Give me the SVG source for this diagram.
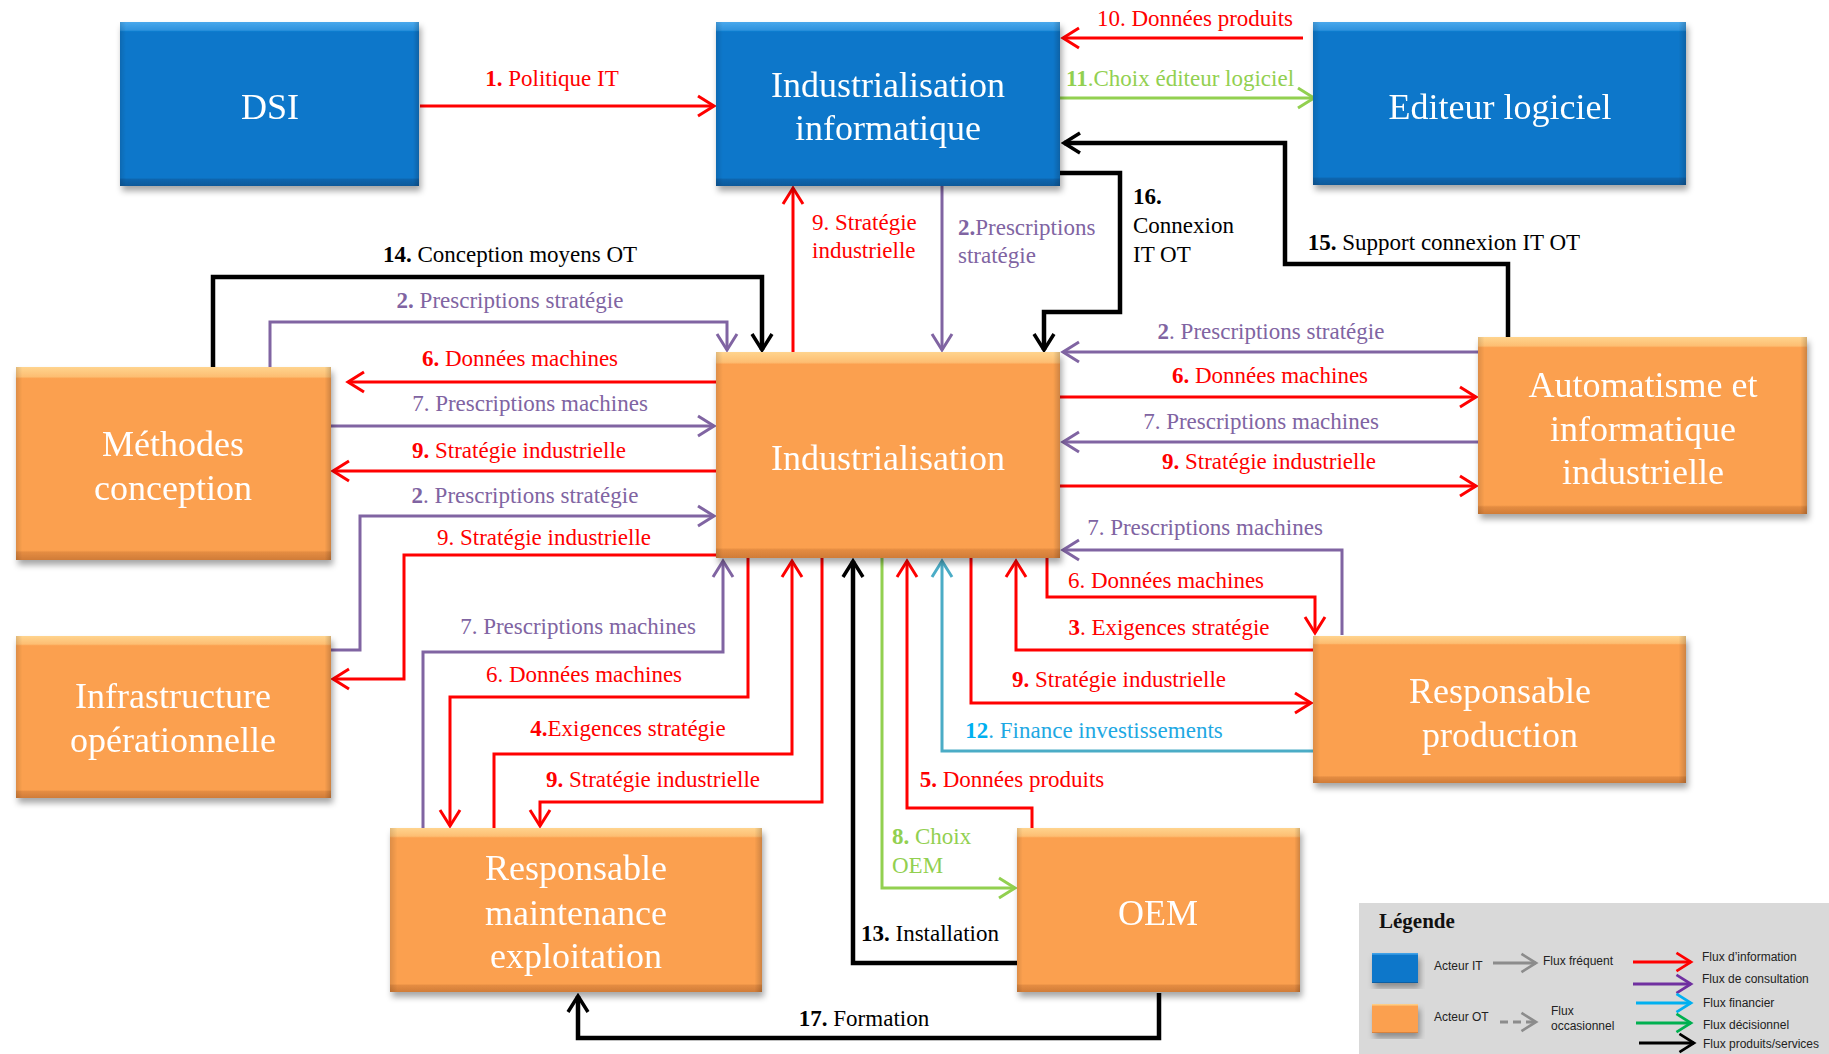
<svg xmlns="http://www.w3.org/2000/svg" width="1829" height="1054" viewBox="0 0 1829 1054">
<defs>
<style>
.nt{font-family:"Liberation Serif","Times New Roman",serif;font-size:36px;fill:#fff;text-anchor:middle}
.lb{font-family:"Liberation Serif","Times New Roman",serif;font-size:23px;text-anchor:middle}
.ll{font-family:"Liberation Serif","Times New Roman",serif;font-size:23px}
.b{font-weight:bold}
.r{fill:#FF0000}.p{fill:#8064A2}.k{fill:#000}.g{fill:#92D050}.c{fill:#1EA8E3}
.ln{fill:none;stroke-linejoin:miter}
.lr{stroke:#FF0000;stroke-width:3;marker-end:url(#aR)}
.lp{stroke:#8064A2;stroke-width:3;marker-end:url(#aP)}
.lk{stroke:#000;stroke-width:4.5;marker-end:url(#aK)}
.lg{stroke:#92D050;stroke-width:3;marker-end:url(#aG)}
.lc{stroke:#4BACC6;stroke-width:3;marker-end:url(#aC)}
.blue{fill:url(#gB)}.orange{fill:url(#gO)}
.side{fill:url(#gS)}
.lt{font-family:"Liberation Sans",Arial,sans-serif;font-size:12px;fill:#222}
</style>
<linearGradient id="gB" x1="0" y1="0" x2="0" y2="1">
<stop offset="0" stop-color="#4AA8EC"/><stop offset="0.05" stop-color="#2E93DE"/><stop offset="0.06" stop-color="#0877CA"/><stop offset="0.95" stop-color="#0877CA"/><stop offset="0.96" stop-color="#0865AE"/><stop offset="1" stop-color="#08599A"/>
</linearGradient>
<linearGradient id="gO" x1="0" y1="0" x2="0" y2="1">
<stop offset="0" stop-color="#FFD48E"/><stop offset="0.05" stop-color="#FDBE72"/><stop offset="0.06" stop-color="#FBA04F"/><stop offset="0.95" stop-color="#FBA04F"/><stop offset="0.96" stop-color="#E48C42"/><stop offset="1" stop-color="#D07C38"/>
</linearGradient>
<linearGradient id="gS" x1="0" y1="0" x2="1" y2="0">
<stop offset="0" stop-color="#000" stop-opacity="0.12"/><stop offset="0.02" stop-color="#000" stop-opacity="0"/><stop offset="0.98" stop-color="#000" stop-opacity="0"/><stop offset="1" stop-color="#000" stop-opacity="0.18"/>
</linearGradient>
<filter id="sh" x="-10%" y="-10%" width="125%" height="130%">
<feDropShadow dx="2" dy="5" stdDeviation="3" flood-color="#000" flood-opacity="0.35"/>
</filter>
<marker id="aR" viewBox="0 0 22 24" markerWidth="22" markerHeight="24" refX="19" refY="12" orient="auto" markerUnits="userSpaceOnUse"><path d="M3,2 L19,12 L3,22" fill="none" stroke="#FF0000" stroke-width="3"/></marker>
<marker id="aP" viewBox="0 0 22 24" markerWidth="22" markerHeight="24" refX="19" refY="12" orient="auto" markerUnits="userSpaceOnUse"><path d="M3,2 L19,12 L3,22" fill="none" stroke="#8064A2" stroke-width="3"/></marker>
<marker id="aK" viewBox="0 0 22 24" markerWidth="22" markerHeight="24" refX="19" refY="12" orient="auto" markerUnits="userSpaceOnUse"><path d="M3,2 L19,12 L3,22" fill="none" stroke="#000" stroke-width="3.5"/></marker>
<marker id="aG" viewBox="0 0 22 24" markerWidth="22" markerHeight="24" refX="19" refY="12" orient="auto" markerUnits="userSpaceOnUse"><path d="M3,2 L19,12 L3,22" fill="none" stroke="#92D050" stroke-width="3"/></marker>
<marker id="aC" viewBox="0 0 22 24" markerWidth="22" markerHeight="24" refX="19" refY="12" orient="auto" markerUnits="userSpaceOnUse"><path d="M3,2 L19,12 L3,22" fill="none" stroke="#4BACC6" stroke-width="3"/></marker>
<marker id="lR" viewBox="0 0 22 24" markerWidth="20" markerHeight="22" refX="19" refY="12" orient="auto" markerUnits="userSpaceOnUse"><path d="M3,2 L19,12 L3,22" fill="none" stroke="#FF0000" stroke-width="3"/></marker>
<marker id="lP" viewBox="0 0 22 24" markerWidth="20" markerHeight="22" refX="19" refY="12" orient="auto" markerUnits="userSpaceOnUse"><path d="M3,2 L19,12 L3,22" fill="none" stroke="#7030A0" stroke-width="3"/></marker>
<marker id="lB" viewBox="0 0 22 24" markerWidth="20" markerHeight="22" refX="19" refY="12" orient="auto" markerUnits="userSpaceOnUse"><path d="M3,2 L19,12 L3,22" fill="none" stroke="#00B0F0" stroke-width="3"/></marker>
<marker id="lG" viewBox="0 0 22 24" markerWidth="20" markerHeight="22" refX="19" refY="12" orient="auto" markerUnits="userSpaceOnUse"><path d="M3,2 L19,12 L3,22" fill="none" stroke="#00B050" stroke-width="3"/></marker>
<marker id="lK" viewBox="0 0 22 24" markerWidth="20" markerHeight="22" refX="19" refY="12" orient="auto" markerUnits="userSpaceOnUse"><path d="M3,2 L19,12 L3,22" fill="none" stroke="#000" stroke-width="3"/></marker>
<marker id="lY" viewBox="0 0 22 24" markerWidth="20" markerHeight="22" refX="19" refY="12" orient="auto" markerUnits="userSpaceOnUse"><path d="M3,2 L19,12 L3,22" fill="none" stroke="#8C8C8C" stroke-width="3"/></marker>
</defs>
<rect width="1829" height="1054" fill="#fff"/>

<g id="connectors" class="ln">
<path class="lr" d="M420,106 H714"/>
<path class="lr" d="M1303,38 H1063"/>
<path class="lg" d="M1060,98 H1314"/>
<path class="lk" d="M1508,337 V264 H1285 V143 H1064"/>
<path class="lk" d="M1055,173 H1120 V312 H1044 V350"/>
<path class="lr" d="M793,352 V188"/>
<path class="lp" d="M942,186 V350"/>
<path class="lk" d="M213,367 V277 H762 V350"/>
<path class="lp" d="M270,367 V322 H727 V350"/>
<path class="lr" d="M716,382 H348"/>
<path class="lp" d="M331,426 H714"/>
<path class="lr" d="M716,471 H333"/>
<path class="lp" d="M331,650 H360 V516 H714"/>
<path class="lr" d="M716,555 H404 V679 H333"/>
<path class="lp" d="M423,828 V652 H723 V561"/>
<path class="lr" d="M748,558 V697 H450 V826"/>
<path class="lr" d="M494,828 V754 H792 V561"/>
<path class="lr" d="M822,558 V802 H540 V826"/>
<path class="lk" d="M1017,963 H853 V561"/>
<path class="lg" d="M882,558 V888 H1015"/>
<path class="lr" d="M1032,828 V808 H907 V561"/>
<path class="lc" d="M1313,751 H942 V561"/>
<path class="lr" d="M971,558 V703 H1311"/>
<path class="lr" d="M1313,650 H1016 V561"/>
<path class="lr" d="M1047,558 V597 H1315 V633"/>
<path class="lp" d="M1342,635 V550 H1063"/>
<path class="lp" d="M1478,352 H1063"/>
<path class="lr" d="M1060,397 H1476"/>
<path class="lp" d="M1478,442 H1063"/>
<path class="lr" d="M1060,486 H1476"/>
<path class="lk" d="M1159,993 V1038 H578 V996"/>
</g>

<g id="labels">
<text class="lb r" x="552" y="86"><tspan class="b">1.</tspan> Politique IT</text>
<text class="lb r" x="1195" y="26">10. Données produits</text>
<text class="lb g" x="1180" y="86"><tspan class="b">11</tspan>.Choix éditeur logiciel</text>
<text class="lb k" x="1444" y="250"><tspan class="b">15.</tspan> Support connexion IT OT</text>
<text class="ll k" x="1133" y="204"><tspan class="b">16.</tspan></text>
<text class="ll k" x="1133" y="233">Connexion</text>
<text class="ll k" x="1133" y="262">IT OT</text>
<text class="ll r" x="812" y="230">9. Stratégie</text>
<text class="ll r" x="812" y="258">industrielle</text>
<text class="ll p" x="958" y="235"><tspan class="b">2.</tspan>Prescriptions</text>
<text class="ll p" x="958" y="263">stratégie</text>
<text class="lb k" x="510" y="262"><tspan class="b">14.</tspan> Conception moyens OT</text>
<text class="lb p" x="510" y="308"><tspan class="b">2.</tspan> Prescriptions stratégie</text>
<text class="lb r" x="520" y="366"><tspan class="b">6.</tspan> Données machines</text>
<text class="lb p" x="530" y="411">7. Prescriptions machines</text>
<text class="lb r" x="519" y="458"><tspan class="b">9.</tspan> Stratégie industrielle</text>
<text class="lb p" x="525" y="503"><tspan class="b">2</tspan>. Prescriptions stratégie</text>
<text class="lb r" x="544" y="545">9. Stratégie industrielle</text>
<text class="lb p" x="578" y="634">7. Prescriptions machines</text>
<text class="lb r" x="584" y="682">6. Données machines</text>
<text class="lb r" x="628" y="736"><tspan class="b">4.</tspan>Exigences stratégie</text>
<text class="lb r" x="653" y="787"><tspan class="b">9.</tspan> Stratégie industrielle</text>
<text class="lb p" x="1271" y="339"><tspan class="b">2</tspan>. Prescriptions stratégie</text>
<text class="lb r" x="1270" y="383"><tspan class="b">6.</tspan> Données machines</text>
<text class="lb p" x="1261" y="429">7. Prescriptions machines</text>
<text class="lb r" x="1269" y="469"><tspan class="b">9.</tspan> Stratégie industrielle</text>
<text class="lb p" x="1205" y="535">7. Prescriptions machines</text>
<text class="lb r" x="1166" y="588">6. Données machines</text>
<text class="lb r" x="1169" y="635"><tspan class="b">3</tspan>. Exigences stratégie</text>
<text class="lb r" x="1119" y="687"><tspan class="b">9.</tspan> Stratégie industrielle</text>
<text class="lb c" x="1094" y="738"><tspan class="b" fill="#00B0F0">12</tspan>. Finance investissements</text>
<text class="lb r" x="1012" y="787"><tspan class="b">5.</tspan> Données produits</text>
<text class="ll g" x="892" y="844"><tspan class="b">8.</tspan> Choix</text>
<text class="ll g" x="892" y="873">OEM</text>
<text class="lb k" x="930" y="941"><tspan class="b">13.</tspan> Installation</text>
<text class="lb k" x="864" y="1026"><tspan class="b">17.</tspan> Formation</text>
</g>

<g id="n-dsi" filter="url(#sh)">
<rect class="blue" x="120" y="22" width="299" height="164"/><rect class="side" x="120" y="22" width="299" height="164"/>
<text class="nt" x="270" y="119">DSI</text>
</g>
<g id="n-indinfo" filter="url(#sh)">
<rect class="blue" x="716" y="22" width="344" height="164"/><rect class="side" x="716" y="22" width="344" height="164"/>
<text class="nt" x="888" y="97">Industrialisation</text>
<text class="nt" x="888" y="140">informatique</text>
</g>
<g id="n-editeur" filter="url(#sh)">
<rect class="blue" x="1313" y="22" width="373" height="163"/><rect class="side" x="1313" y="22" width="373" height="163"/>
<text class="nt" x="1500" y="119">Editeur logiciel</text>
</g>
<g id="n-methodes" filter="url(#sh)">
<rect class="orange" x="16" y="367" width="315" height="193"/><rect class="side" x="16" y="367" width="315" height="193"/>
<text class="nt" x="173" y="456">Méthodes</text>
<text class="nt" x="173" y="500">conception</text>
</g>
<g id="n-indus" filter="url(#sh)">
<rect class="orange" x="716" y="352" width="344" height="206"/><rect class="side" x="716" y="352" width="344" height="206"/>
<text class="nt" x="888" y="470">Industrialisation</text>
</g>
<g id="n-auto" filter="url(#sh)">
<rect class="orange" x="1478" y="337" width="329" height="177"/><rect class="side" x="1478" y="337" width="329" height="177"/>
<text class="nt" x="1643" y="397">Automatisme et</text>
<text class="nt" x="1643" y="441">informatique</text>
<text class="nt" x="1643" y="484">industrielle</text>
</g>
<g id="n-infra" filter="url(#sh)">
<rect class="orange" x="16" y="636" width="315" height="162"/><rect class="side" x="16" y="636" width="315" height="162"/>
<text class="nt" x="173" y="708">Infrastructure</text>
<text class="nt" x="173" y="752">opérationnelle</text>
</g>
<g id="n-prod" filter="url(#sh)">
<rect class="orange" x="1313" y="636" width="373" height="147"/><rect class="side" x="1313" y="636" width="373" height="147"/>
<text class="nt" x="1500" y="703">Responsable</text>
<text class="nt" x="1500" y="747">production</text>
</g>
<g id="n-maint" filter="url(#sh)">
<rect class="orange" x="390" y="828" width="372" height="164"/><rect class="side" x="390" y="828" width="372" height="164"/>
<text class="nt" x="576" y="880">Responsable</text>
<text class="nt" x="576" y="925">maintenance</text>
<text class="nt" x="576" y="968">exploitation</text>
</g>
<g id="n-oem" filter="url(#sh)">
<rect class="orange" x="1017" y="828" width="283" height="164"/><rect class="side" x="1017" y="828" width="283" height="164"/>
<text class="nt" x="1158" y="925">OEM</text>
</g>

<g id="legend">
<rect x="1359" y="903" width="470" height="151" fill="#D9D9D9"/>
<text x="1379" y="928" font-family="Liberation Serif, serif" font-size="21" font-weight="bold" fill="#111">Légende</text>
<rect class="blue" x="1372" y="953" width="46" height="30" filter="url(#sh)"/>
<rect class="orange" x="1372" y="1004" width="46" height="29" filter="url(#sh)"/>
<text class="lt" x="1434" y="970">Acteur IT</text>
<text class="lt" x="1434" y="1021">Acteur OT</text>
<path d="M1493,963 H1536" stroke="#8C8C8C" stroke-width="3" fill="none" marker-end="url(#lY)"/>
<path d="M1500,1022 H1536" stroke="#8C8C8C" stroke-width="3" stroke-dasharray="8,5" fill="none" marker-end="url(#lY)"/>
<text class="lt" x="1543" y="965">Flux fréquent</text>
<text class="lt" x="1551" y="1015">Flux</text>
<text class="lt" x="1551" y="1030">occasionnel</text>
<path d="M1633,962 H1691" stroke="#FF0000" stroke-width="3" fill="none" marker-end="url(#lR)"/>
<path d="M1633,984 H1691" stroke="#7030A0" stroke-width="3" fill="none" marker-end="url(#lP)"/>
<path d="M1636,1003 H1691" stroke="#00B0F0" stroke-width="3" fill="none" marker-end="url(#lB)"/>
<path d="M1636,1023 H1691" stroke="#00B050" stroke-width="3" fill="none" marker-end="url(#lG)"/>
<path d="M1639,1043 H1694" stroke="#000" stroke-width="3" fill="none" marker-end="url(#lK)"/>
<text class="lt" x="1702" y="961">Flux d’information</text>
<text class="lt" x="1702" y="983">Flux de consultation</text>
<text class="lt" x="1703" y="1007">Flux financier</text>
<text class="lt" x="1703" y="1029">Flux décisionnel</text>
<text class="lt" x="1703" y="1048">Flux produits/services</text>
</g>
</svg>
